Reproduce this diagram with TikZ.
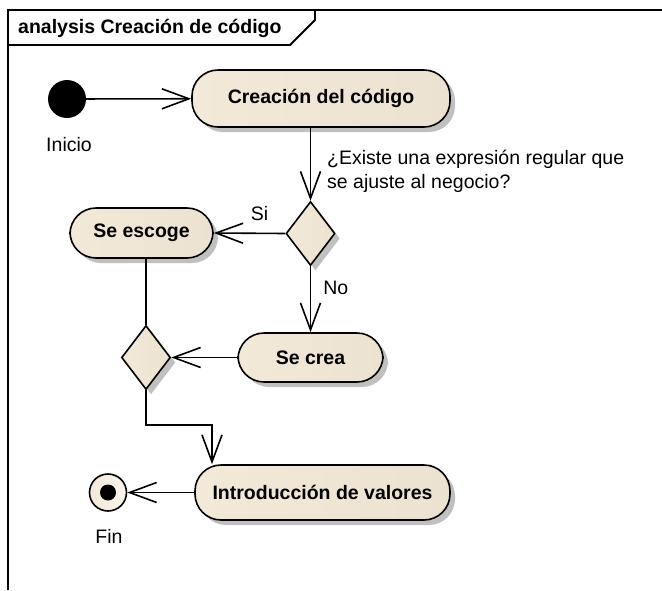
\documentclass[tikz,border=0pt]{standalone}
\usepackage{fontspec}
\setmainfont{Liberation Sans}
\usetikzlibrary{arrows.meta,shapes.geometric,shadows}
\definecolor{crema}{RGB}{243,233,217}
\definecolor{cremaclaro}{RGB}{249,244,236}
\definecolor{cremaoscuro}{RGB}{236,226,210}
\definecolor{sombra}{RGB}{192,192,192}
\tikzset{
  accion/.style={draw,line width=1.6pt,rounded corners=26pt,inner sep=0pt,
    left color=crema,middle color=cremaclaro,right color=cremaoscuro,
    drop shadow={shadow xshift=5pt,shadow yshift=-5pt,fill=sombra,opacity=1},
    font=\fontsize{19.5}{24}\selectfont\bfseries},
  decision/.style={draw,line width=1.6pt,diamond,inner sep=0pt,
    minimum width=49pt,minimum height=64pt,
    left color=crema,middle color=cremaclaro,right color=cremaoscuro,
    drop shadow={shadow xshift=5pt,shadow yshift=-5pt,fill=sombra,opacity=1}},
  texto/.style={font=\fontsize{19.5}{24}\selectfont,inner sep=0pt},
  flujo/.style={line width=1.6pt,-{Straight Barb[length=27pt,width=20pt,line width=1.6pt]}}
}
\begin{document}
\begin{tikzpicture}[x=1pt,y=-1pt]
    \useasboundingbox (0,0) rectangle (662,590);
    % marco y pestaña
    \draw[line width=1.8pt] (8,590) -- (8,10) -- (662,10);
    \draw[line width=1.8pt] (8,45) -- (290,45) -- (315,20) -- (315,10);
    \node[texto,font=\fontsize{19.5}{24}\selectfont\bfseries,anchor=base west] (titulo) at (18,33) {analysis Creación de código};
    % nodos inicial y final
    \node[circle,fill=black,minimum size=38pt,inner sep=0pt] (inicio) at (67,99) {};
    \node[texto] (tinicio) at (69,145) {Inicio};
    \node[circle,draw,line width=1.6pt,minimum size=37pt,inner sep=0pt,
      left color=crema,right color=cremaclaro] (fin) at (108,492.5) {};
    \fill (fin.center) circle (8);
    \node[texto] (tfin) at (109,536) {Fin};
    % acciones
    \node[accion,minimum width=258pt,minimum height=57pt] (creacion) at (321,98.5) {Creación del código};
    \node[accion,minimum width=143pt,minimum height=50pt] (escoge) at (141.5,233) {Se escoge};
    \node[accion,minimum width=145pt,minimum height=49pt] (crea) at (310.5,357.5) {Se crea};
    \node[accion,minimum width=255pt,minimum height=55pt] (intro) at (322.5,492.5) {Introducción de valores};
    % decisiones
    \node[decision] (dec1) at (310.5,233.5) {};
    \node[decision] (dec2) at (146,357.5) {};
    % flujos
    \draw[flujo] (inicio) -- (creacion);
    \draw[flujo] (dec1 |- creacion.south) -- (dec1.north);
    \node[texto,align=left,anchor=base west] (pregunta) at (327,188)
      {¿Existe una expresión regular que\\se ajuste al negocio?};
    \draw[flujo] (dec1.west) -- node[texto,pos=0.36,above=12pt] (tsi) {Si} (escoge.east);
    \draw[flujo] (dec1.south) -- node[texto,pos=0.33,right=12pt] (tno) {No} (crea.north);
    \draw[line width=1.6pt] (dec2 |- escoge.south) -- (dec2.north);
    \draw[flujo] (crea.west) -- (dec2.east);
    \coordinate (codo) at (212,425);
    \draw[flujo] (dec2.south) |- (codo) -- (codo |- intro.north);
    \draw[flujo] (intro.west) -- (fin.east);
\end{tikzpicture}
\end{document}
